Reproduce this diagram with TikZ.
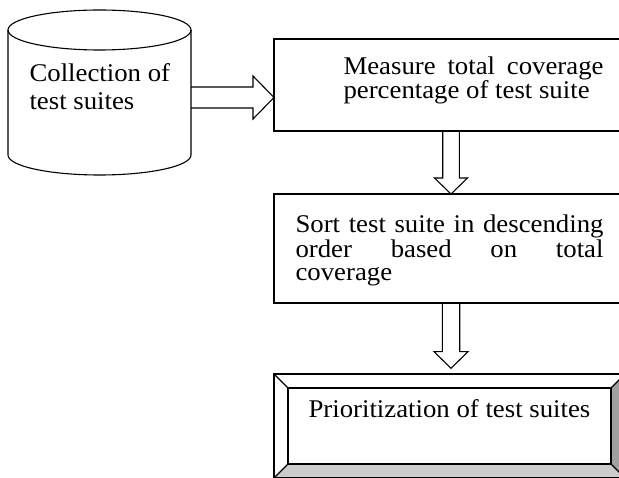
\documentclass[tikz,border=0pt]{standalone}
\usepackage{fontspec}
\setmainfont{Liberation Serif}[FakeStretch=1.05]
\usetikzlibrary{calc,positioning}
\definecolor{bevelgray}{RGB}{160,160,160}
\definecolor{bevellight}{RGB}{204,204,204}
\tikzset{
  box/.style={draw,minimum width=354,minimum height=#1,inner sep=0,outer sep=0},
  boxtext/.style={inner sep=0,anchor=north west,align=justify,font=\fontsize{25.5}{23}\selectfont},
  blockarrow/.style={draw,line join=miter}
}
\begin{document}
\begin{tikzpicture}[x=1pt,y=1pt,line width=1.1pt]
        % 画像の範囲
        \useasboundingbox (0,0) rectangle (619,477);
        \clip (0,0) rectangle (619,477);
        % 円柱（テストスイートの集合）
        \coordinate (cyltop) at (99.5,447);
        \coordinate (cylbot) at (99.5,322);
        \coordinate (cyl) at (191,379.5);
        \draw (cyltop) ellipse [x radius=91.5,y radius=20];
        \draw ($(cyltop)+(-91.5,0)$) -- ($(cylbot)+(-91.5,0)$)
          arc [start angle=180,end angle=360,x radius=91.5,y radius=20]
          -- ($(cyltop)+(91.5,0)$);
        \node[anchor=north west,align=left,inner sep=0,font=\fontsize{25.5}{28}\selectfont] (coll) at (29,413.9) {Collection of\\test suites};
        % カバレッジ計測の箱
        \node[box=92] (measure) at (451,392) {};
        \node[boxtext,text width=260] (measuretext) at ($(measure.north west)+(69,-17.1)$) {Measure total coverage\linebreak percentage of test suite};
        % 並べ替えの箱
        \node[box=109] (sort) at (451,228.5) {};
        \node[boxtext,text width=308] (sorttext) at ($(sort.north west)+(21,-20.6)$) {Sort test suite in descending\linebreak order based on total\linebreak coverage};
        % 優先順位付けの箱（立体枠）
        \node[draw,minimum width=351,minimum height=104,inner sep=0,outer sep=0] (prior) at (449.5,51) {};
        \fill[bevelgray] (prior.north east) -- (prior.south east) -- ($(prior.south east)+(-14,14)$) -- ($(prior.north east)+(-14,-14)$) -- cycle;
        \fill[bevellight] (prior.south west) -- (prior.south east) -- ($(prior.south east)+(-14,14)$) -- ($(prior.south west)+(14,14)$) -- cycle;
        \draw (prior.south west) rectangle (prior.north east);
        \draw ($(prior.north west)+(14,-14)$) rectangle ($(prior.south east)+(-14,14)$);
        \draw (prior.north west) -- ++(14,-14);
        \draw (prior.north east) -- ++(-14,-14);
        \draw (prior.south west) -- ++(14,14);
        \draw (prior.south east) -- ++(-14,14);
        \node[anchor=north west,inner sep=0,font=\fontsize{25.5}{23}\selectfont] (priortext) at ($(prior.north west)+(34,-24.6)$) {Prioritization of test suites};
        % 矢印1（円柱から計測へ）
        \draw[blockarrow] let \p1=(cyl), \p2=(measure.west) in
          (\x1,\y1+10.5pt) -- (\x2-21pt,\y1+10.5pt) -- (\x2-21pt,\y1+21.5pt) -- (\x2,\y1)
          -- (\x2-21pt,\y1-21.5pt) -- (\x2-21pt,\y1-10.5pt) -- (\x1,\y1-10.5pt);
        % 矢印2（計測から並べ替えへ）
        \draw[blockarrow] let \p1=(measure.south), \p2=(sort.north) in
          (\x1-8.3pt,\y1) -- (\x1-8.3pt,\y2+16pt) -- (\x1-16.5pt,\y2+16pt) -- (\x1,\y2)
          -- (\x1+16.5pt,\y2+16pt) -- (\x1+8.3pt,\y2+16pt) -- (\x1+8.3pt,\y1);
        % 矢印3（並べ替えから優先順位付けへ）
        \coordinate (priortop) at ($(prior.north)+(0.8,5.7)$);
        \draw[blockarrow] let \p1=(sort.south), \p2=(priortop) in
          (\x1-8.7pt,\y1) -- (\x1-8.7pt,\y2+16.6pt) -- (\x1-17pt,\y2+16.6pt) -- (\x1,\y2)
          -- (\x1+17pt,\y2+16.6pt) -- (\x1+8.7pt,\y2+16.6pt) -- (\x1+8.7pt,\y1);
\end{tikzpicture}
\end{document}
